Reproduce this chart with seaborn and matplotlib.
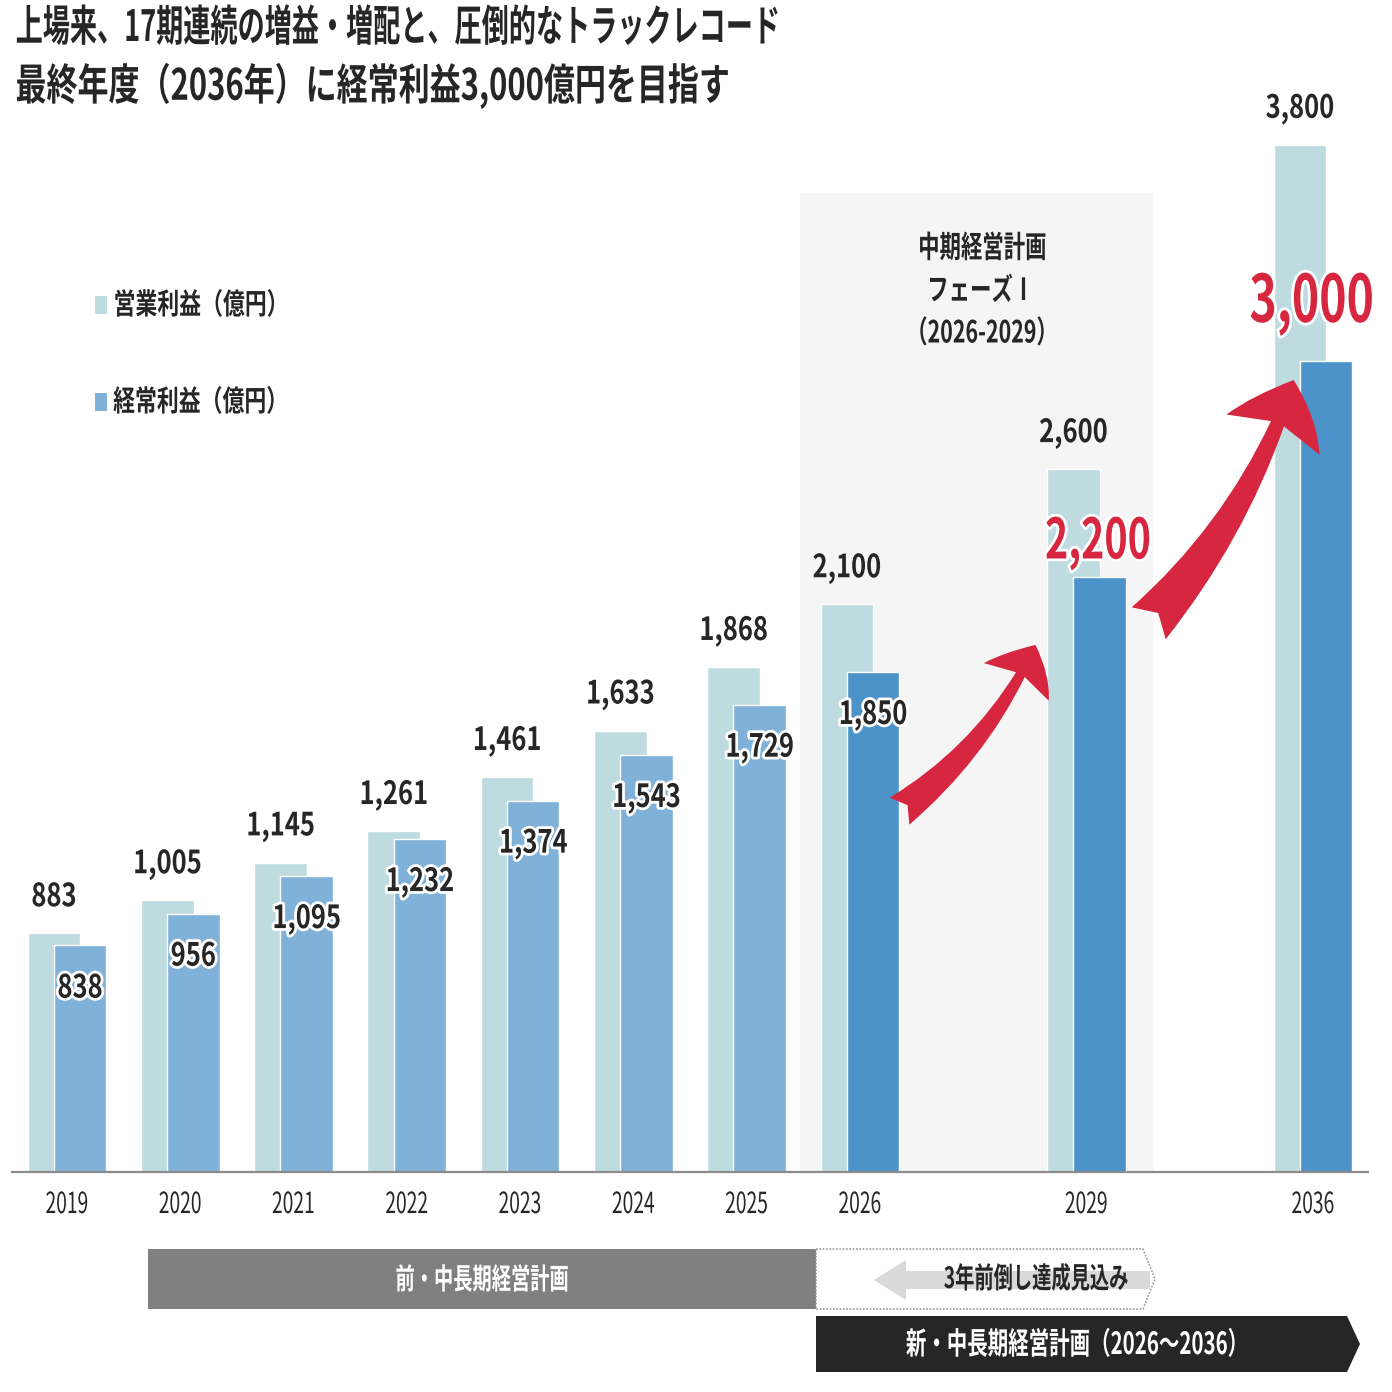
import numpy as np
import pandas as pd
import seaborn as sns
import matplotlib.pyplot as plt
import matplotlib.colors as mcolors
import matplotlib.patheffects as pe
from matplotlib.patches import Rectangle, Polygon, FancyArrowPatch, FancyArrow
from matplotlib.transforms import Affine2D

# data
years = ['2019', '2020', '2021', '2022', '2023', '2024', '2025', '2026', '2029', '2036']
slots = [0, 1, 2, 3, 4, 5, 6, 7, 9, 11]
op_profit = [883, 1005, 1145, 1261, 1461, 1633, 1868, 2100, 2600, 3800]
ord_profit = [838, 956, 1095, 1232, 1374, 1543, 1729, 1850, 2200, 3000]
period = ['actual'] * 7 + ['plan'] * 3
targets = ['', '', '', '', '', '', '', '', '2,200', '3,000']

LIGHT = '#BEDCE0'
BLUE = {'actual': '#80B1D9', 'plan': '#4B93C8'}
RED = '#D7263F'

sns.set_style('white')
plt.rcParams['font.family'] = ['Noto Sans CJK JP', 'DejaVu Sans']


class Squeeze(pe.AbstractPathEffect):
    """draw text narrower (the slide uses a condensed face), optional glow"""
    def __init__(self, sx=0.7, anchor='center', glow=0, glow_color='white'):
        super().__init__()
        self.sx, self.anchor, self.glow = sx, anchor, glow
        self.glow_color = mcolors.to_rgba(glow_color)

    def draw_path(self, renderer, gc, tpath, affine, rgbFace=None):
        ext = tpath.get_extents()
        cx = {'left': ext.x0, 'right': ext.x1}.get(self.anchor, (ext.x0 + ext.x1) / 2)
        aff = Affine2D().translate(-cx, 0).scale(self.sx, 1).translate(cx, 0) + affine
        if self.glow:
            gc0 = renderer.new_gc()
            gc0.copy_properties(gc)
            gc0.set_linewidth(self.glow)
            gc0.set_foreground(self.glow_color)
            gc0.set_joinstyle('round')
            renderer.draw_path(gc0, tpath, aff, self.glow_color)
            gc0.restore()
        renderer.draw_path(gc, tpath, aff, rgbFace)


W = H = 1392
fig = plt.figure(figsize=(W / 100, H / 100), dpi=100)
ax = fig.add_axes([12 / W, 1 - 1172 / H, 1356 / W, 1172 / H])
pix = Affine2D().scale(1 / W, -1 / H).translate(0, 1) + fig.transFigure

off, bw = 0.115, 0.465
df = pd.DataFrame({'slot': slots, 'op': op_profit, 'ord': ord_profit, 'period': period})
df['x_op'] = df['slot'] - off
df['x_ord'] = df['slot'] + off

# mid-term plan phase I shading
ax.add_patch(Rectangle((6.47, 0), 3.12, 3622, color='#F5F5F5', lw=0, zorder=0))

sns.barplot(data=df, x='x_op', y='op', native_scale=True, width=bw, color=LIGHT,
            saturation=1, ax=ax, zorder=1)
sns.barplot(data=df, x='x_ord', y='ord', hue='period', palette=BLUE, native_scale=True,
            width=bw, dodge=False, saturation=1, legend=False, ax=ax, zorder=2)

ax.set_xlim(-0.486, 11.486)
ax.set_ylim(0, 1172 / 0.2703)
ax.set_xticks(slots, years)
ax.set_yticks([])
ax.set_xlabel('')
ax.set_ylabel('')
ax.tick_params(axis='x', length=0, pad=13, labelsize=21)
for lbl in ax.get_xticklabels():
    lbl.set_path_effects([Squeeze(0.66)])
sns.despine(ax=ax, left=True)
ax.spines['bottom'].set_color('#8C8C8C')
ax.spines['bottom'].set_linewidth(1.6)
ax.patch.set_alpha(0)

# value labels
for _, r in df.iterrows():
    ax.annotate(f"{r['op']:,}", (r['x_op'], r['op']), xytext=(0, 26), textcoords='offset points',
                ha='center', va='center', fontsize=23, fontweight='bold', zorder=5,
                path_effects=[Squeeze(0.8)])
for i, r in df.iterrows():
    if targets[i]:
        continue
    ax.annotate(f"{r['ord']:,}", (r['x_ord'], r['ord']), xytext=(0, -31), textcoords='offset points',
                ha='center', va='center', fontsize=23, fontweight='bold', zorder=5,
                path_effects=[Squeeze(0.8, glow=4)])
ax.annotate(targets[8], (slots[8] + off, ord_profit[8]), xytext=(-1, 25), textcoords='offset points',
            ha='center', va='center', fontsize=40, fontweight='bold', color=RED, zorder=5,
            path_effects=[Squeeze(0.71, glow=4)])
ax.annotate(targets[9], (slots[9] + off, ord_profit[9]), xytext=(35, 42), textcoords='offset points',
            ha='right', va='center', fontsize=47, fontweight='bold', color=RED, zorder=5,
            path_effects=[Squeeze(0.71, 'right', glow=4)])

# red growth arrows
ax.add_patch(FancyArrowPatch((7.35, 1335), (8.55, 1950), connectionstyle='arc3,rad=0.13',
                             arrowstyle='fancy,head_length=3.0,head_width=5.4,tail_width=2.4',
                             mutation_scale=10, color=RED, lw=0, shrinkA=0, shrinkB=0, zorder=4))
ax.add_patch(FancyArrowPatch((9.55, 2030), (10.83, 2930), connectionstyle='arc3,rad=0.11',
                             arrowstyle='fancy,head_length=3.0,head_width=5.2,tail_width=2.4',
                             mutation_scale=14, color=RED, lw=0, shrinkA=0, shrinkB=0, zorder=4))

# phase box text
fig.text(982, 291, '中期経営計画\nフェーズⅠ\n（2026-2029）', transform=pix, ha='center', va='center',
         fontsize=22, fontweight='bold', linespacing=1.42, multialignment='center',
         path_effects=[Squeeze(0.7)])

# title
fig.text(15, 28, '上場来、17期連続の増益・増配と、圧倒的なトラックレコード', transform=pix,
         ha='left', va='center', fontsize=31, fontweight='bold', path_effects=[Squeeze(0.63, 'left')])
fig.text(15, 86, '最終年度（2036年）に経常利益3,000億円を目指す', transform=pix,
         ha='left', va='center', fontsize=31, fontweight='bold', path_effects=[Squeeze(0.72, 'left')])

# legend
for yy, col, name in [(305, LIGHT, '営業利益（億円）'), (402, BLUE['actual'], '経常利益（億円）')]:
    fig.patches.append(Rectangle((95, yy - 9), 12, 18, color=col, lw=0, transform=pix))
    fig.text(113, yy, name, transform=pix, ha='left', va='center', fontsize=21,
             fontweight='bold', path_effects=[Squeeze(0.75, 'left')])

# bottom plan bars
fig.patches.append(Rectangle((148, 1249), 668, 60, color='#808080', lw=0, transform=pix))
fig.text(482, 1280, '前・中長期経営計画', transform=pix, ha='center', va='center', color='white',
         fontsize=21, fontweight='bold', path_effects=[Squeeze(0.66)])

fig.patches.append(Polygon([(816, 1249), (1143, 1249), (1155, 1279), (1143, 1309), (816, 1309)],
                           closed=True, facecolor='white', edgecolor='#9A9A9A', lw=1.2,
                           ls=(0, (1, 1)), transform=pix))
fig.patches.append(FancyArrow(1150, 1280, -276, 0, width=18, head_width=40, head_length=32,
                              length_includes_head=True, color='#D9D9D9', lw=0, transform=pix))
fig.text(1036, 1279, '3年前倒し達成見込み', transform=pix, ha='center', va='center',
         fontsize=21, fontweight='bold', path_effects=[Squeeze(0.66)])

fig.patches.append(Polygon([(816, 1316), (1347, 1316), (1360, 1344), (1347, 1372), (816, 1372)],
                           closed=True, color='#262626', lw=0, transform=pix))
fig.text(1080, 1345, '新・中長期経営計画（2026～2036）', transform=pix, ha='center', va='center',
         color='white', fontsize=22, fontweight='bold', path_effects=[Squeeze(0.67)])

fig.savefig('out.png', dpi=100)
